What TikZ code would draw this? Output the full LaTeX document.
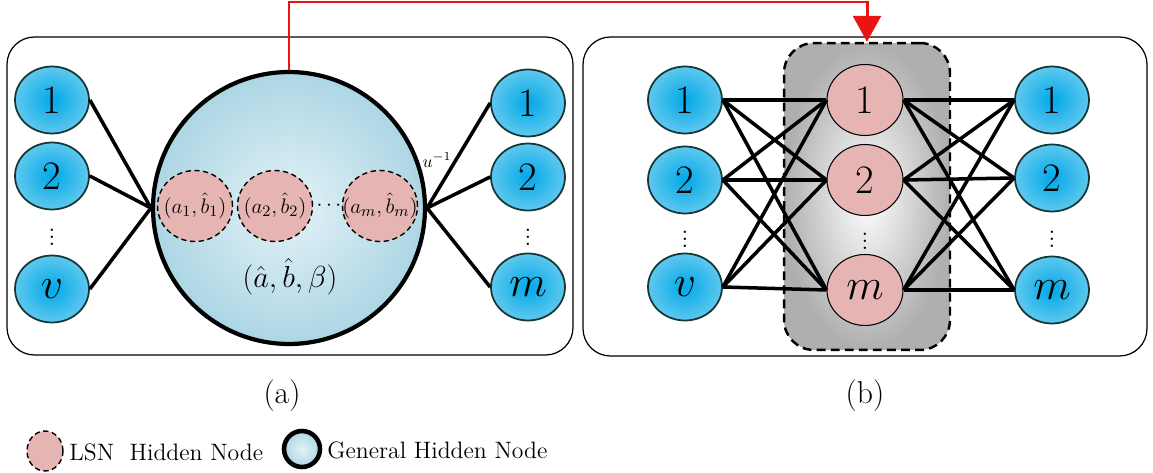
\documentclass[tikz,border=0pt]{standalone}
\usetikzlibrary{arrows.meta,shapes.geometric}
\definecolor{nodeblueA}{RGB}{0,168,232}
\definecolor{nodeblueB}{RGB}{95,200,238}
\definecolor{nodeborder}{RGB}{20,55,55}
\definecolor{bigA}{RGB}{228,242,247}
\definecolor{bigB}{RGB}{172,214,228}
\definecolor{pinkfill}{RGB}{231,180,180}
\definecolor{grayA}{RGB}{255,255,255}
\definecolor{grayB}{RGB}{175,175,175}
\definecolor{arrred}{RGB}{235,20,20}
\begin{document}
\begin{tikzpicture}[x=0.02cm,y=-0.02cm,
  panel/.style={draw, line width=0.7pt, rounded corners=0.55cm},
  bluenode/.style={ellipse, draw=nodeborder, line width=1pt, inner sep=0pt,
     minimum width=1.48cm, minimum height=1.34cm, shade, inner color=nodeblueA, outer color=nodeblueB,
     font=\fontsize{23}{23}\selectfont},
  bignode/.style={circle, draw, line width=2.4pt, inner sep=0pt, minimum size=5.44cm,
     shade, inner color=bigA, outer color=bigB},
  lsnnode/.style={ellipse, draw, dash pattern=on 3pt off 2pt, line width=0.8pt, inner sep=0pt,
     minimum width=1.5cm, minimum height=1.42cm, fill=pinkfill, font=\fontsize{13}{13}\selectfont},
  hidnode/.style={ellipse, draw, line width=0.6pt, inner sep=0pt,
     minimum width=1.52cm, minimum height=1.42cm, fill=pinkfill, font=\fontsize{23}{23}\selectfont},
  graybox/.style={draw, dash pattern=on 5pt off 3pt, line width=1.4pt, rounded corners=0.6cm, inner sep=0pt,
     minimum width=3.32cm, minimum height=6.14cm, shade, inner color=grayA, outer color=grayB},
  conn/.style={line width=2pt},
  dotsv/.style={font=\fontsize{14}{14}\selectfont, inner sep=0pt},
  caption/.style={font=\fontsize{18}{18}\selectfont},
  legend/.style={font=\fontsize{13.5}{13.5}\selectfont, anchor=west, inner sep=0pt}
]
\useasboundingbox (0,0) rectangle (1153,473);

% panels
\draw[panel] (7,37) rectangle (573,355);
\draw[panel] (583,37) rectangle (1147,356);

% ---------- (a) ----------
\node[bignode] (G) at (289,208) {};
\node[lsnnode] (l1) at (195,206) {\makebox[0pt]{$(a_{1},\hat{b}_{1})$}};
\node[lsnnode] (l2) at (275,206) {\makebox[0pt]{$(a_{2},\hat{b}_{2})$}};
\node[lsnnode] (lm) at (380,206) {\makebox[0pt]{$(a_{m},\hat{b}_{m})$}};
\node[font=\fontsize{13}{13}\selectfont, inner sep=0pt] (ldots) at (329,206) {$\cdots$};
\node[font=\fontsize{19}{19}\selectfont] (gtxt) at (290,277) {$(\hat{a},\hat{b},\beta)$};
\node[font=\fontsize{10}{10}\selectfont, inner sep=0pt] (ulab) at (437,160) {$u^{-1}$};

\node[bluenode] (a1) at (52,100) {1};
\node[bluenode] (a2) at (52,176) {2};
\node[bluenode] (av) at (52,289) {$v$};
\node[dotsv] (adots) at (52,232) {$\vdots$};

\node[bluenode] (b1) at (528,103) {1};
\node[bluenode] (b2) at (528,177) {2};
\node[bluenode] (bm) at (528,287) {$m$};
\node[dotsv] (bdots) at (528,232) {$\vdots$};

\foreach \s in {a1,a2,av} \draw[conn] (\s.east) -- (G.west);
\foreach \t in {b1,b2,bm} \draw[conn] (G.east) -- (\t.west);

% ---------- (b) ----------
\node[graybox] (H) at (867,196.5) {};

\node[bluenode] (c1) at (685,100) {1};
\node[bluenode] (c2) at (685,180) {2};
\node[bluenode] (cv) at (685,287) {$v$};
\node[dotsv] (cdots) at (685,234) {$\vdots$};

\node[hidnode] (h1) at (865,100) {1};
\node[hidnode] (h2) at (865,180) {2};
\node[hidnode] (hm) at (865,290) {$m$};
\node[dotsv] (hdots) at (865,236) {$\vdots$};

\node[bluenode] (d1) at (1052,100) {1};
\node[bluenode] (d2) at (1052,178) {2};
\node[bluenode] (dm) at (1052,290) {$m$};
\node[dotsv] (ddots) at (1052,234) {$\vdots$};

\foreach \s in {c1,c2,cv} \foreach \t in {h1,h2,hm} \draw[conn] (\s.east) -- (\t.west);
\foreach \s in {h1,h2,hm} \foreach \t in {d1,d2,dm} \draw[conn] (\s.east) -- (\t.west);

% red arrow
\coordinate (top) at (0,2);
\draw[arrred, line width=1.7pt, -{Triangle[width=0.56cm,length=0.52cm]}]
  (G.north) |- (top -| H.north) -- (H.north);

% captions
\node[caption] (capa) at (282,396) {(a)};
\node[caption] (capb) at (865,396) {(b)};

% legend
\node[ellipse, draw, dash pattern=on 3pt off 2pt, line width=0.8pt, fill=pinkfill, minimum width=0.72cm, minimum height=0.8cm, inner sep=0pt] (leg1) at (45,451) {};
\node[legend] (leg1t) at (69,452) {LSN~ Hidden Node};
\node[circle, draw, line width=2.6pt, shade, inner color=bigA, outer color=bigB, minimum size=0.72cm, inner sep=0pt] (leg2) at (302,449) {};
\node[legend] (leg2t) at (327,450) {General Hidden Node};
\end{tikzpicture}
\end{document}
